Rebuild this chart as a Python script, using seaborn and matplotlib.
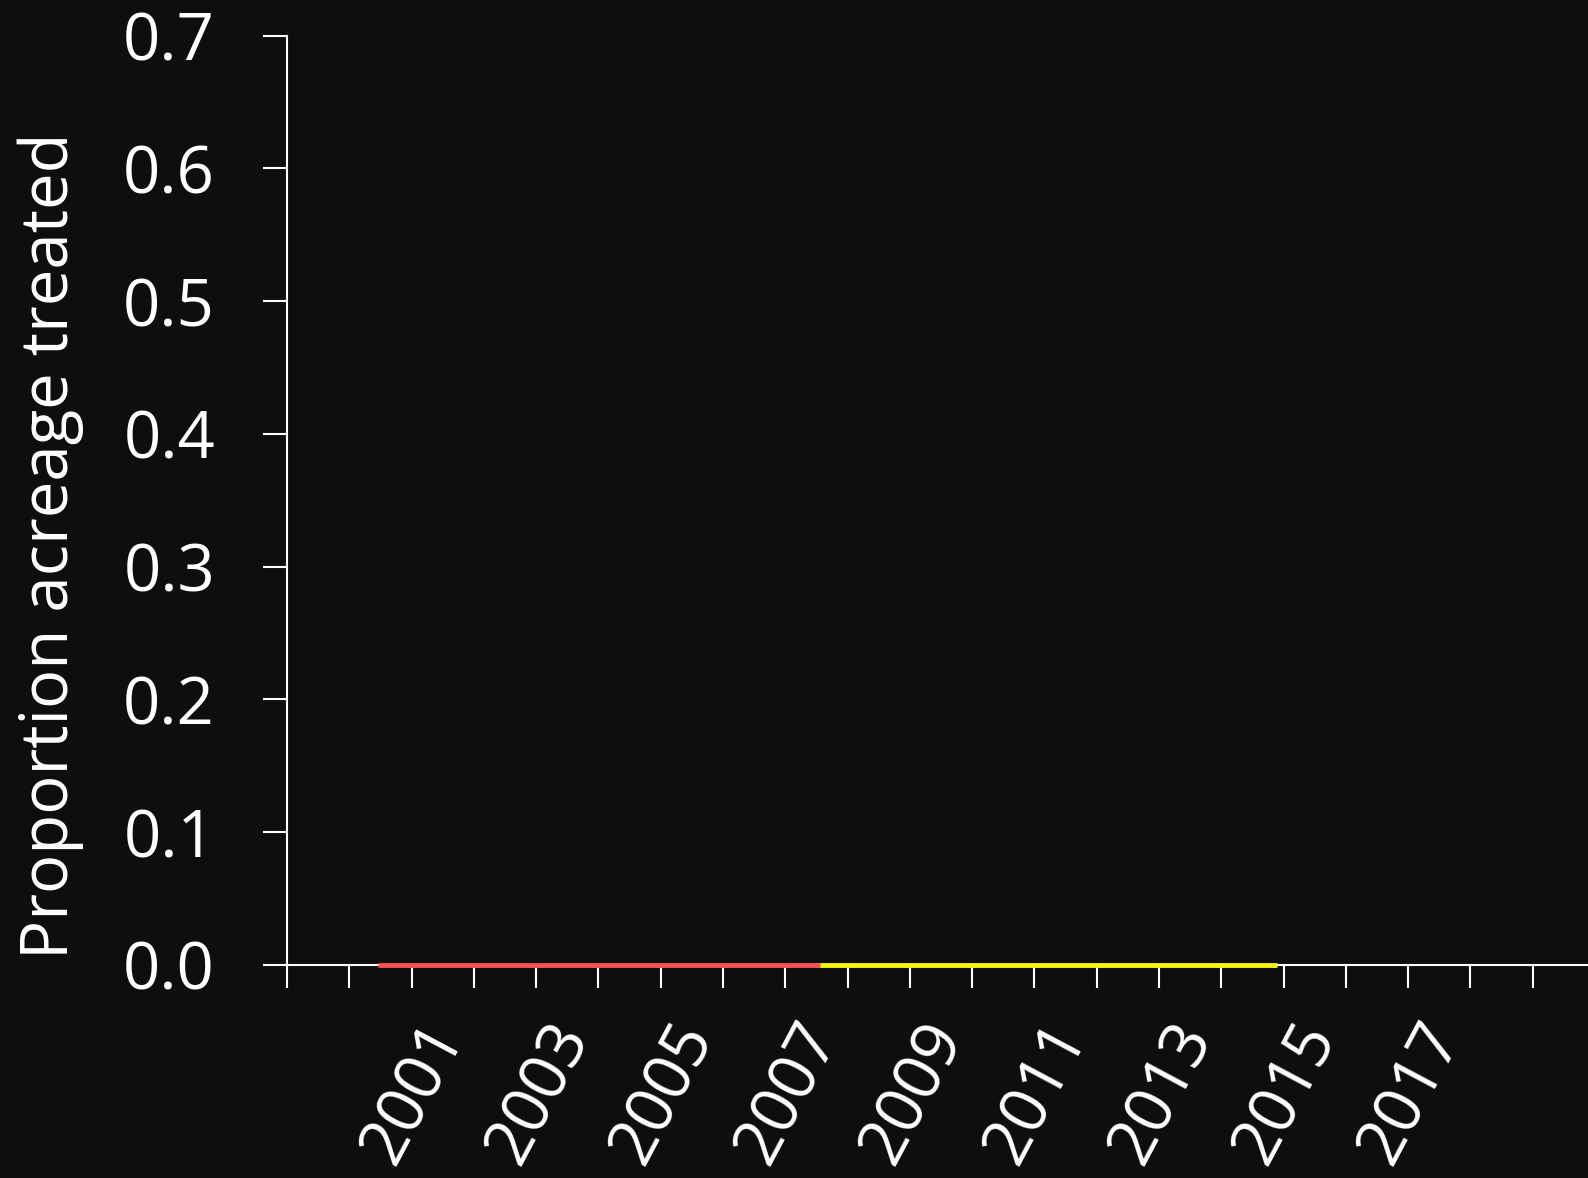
import matplotlib
matplotlib.use("Agg")
import matplotlib.pyplot as plt
import seaborn as sns
import pandas as pd
import numpy as np
from matplotlib.transforms import ScaledTranslation

# ---- data ----
red_years = [1999.46, 2000.5, 2001.5, 2002.5, 2003.5, 2004.5, 2005.5, 2006.55]
red_values = [0, 0, 0, 0, 0, 0, 0, 0]
yellow_years = [2006.5, 2007.5, 2008.5, 2009.5, 2010.5, 2011.5, 2012.5, 2013.5, 2013.9]
yellow_values = [0, 0, 0, 0, 0, 0, 0, 0, 0]
tick_years = list(range(1998, 2019))
label_years = [2001, 2003, 2005, 2007, 2009, 2011, 2013, 2015, 2017]
y_ticks = [0.0, 0.1, 0.2, 0.3, 0.4, 0.5, 0.6, 0.7]
y_label = "Proportion acreage treated"

BG = "#0e0e0e"
RED = "#f55252"
YELLOW = "#f5f50f"

sns.set_theme(style="dark")
plt.rcParams["font.family"] = ["Open Sans", "DejaVu Sans"]

fig = plt.figure(figsize=(15.88, 11.78), dpi=100, facecolor=BG)
ax = fig.add_axes([287 / 1588, 1 - 965 / 1178, 1 - 287 / 1588, (965 - 35.7) / 1178])
ax.set_facecolor(BG)

df_y = pd.DataFrame({"year": yellow_years, "value": yellow_values})
df_r = pd.DataFrame({"year": red_years, "value": red_values})
sns.lineplot(data=df_y, x="year", y="value", color=YELLOW, lw=3.5, ax=ax)
sns.lineplot(data=df_r, x="year", y="value", color=RED, lw=3.5, ax=ax)
for ln in ax.get_lines():
    ln.set_clip_on(False)
    ln.set_solid_capstyle("butt")
    ln.set_zorder(5)

ax.set_xlim(1998, 2018 + 55.3 / 62.3)
ax.set_ylim(0, 0.7)
ax.grid(False)

for s in ["top", "right"]:
    ax.spines[s].set_visible(False)
for s in ["left", "bottom"]:
    ax.spines[s].set_color("white")
    ax.spines[s].set_linewidth(1.5)

ax.set_xticks(tick_years)
ax.set_xticklabels([str(y) if y in label_years else "" for y in tick_years])
ax.tick_params(axis="x", direction="out", length=16.6, width=1.5, color="white",
               pad=17, labelsize=47, labelcolor="white", rotation=62, bottom=True)
off = ScaledTranslation(5 / 100, 0, fig.dpi_scale_trans)
for lbl in ax.get_xticklabels():
    lbl.set_ha("right")
    lbl.set_transform(lbl.get_transform() + off)

ax.set_yticks(y_ticks)
ax.set_yticklabels([f"{v:.1f}" for v in y_ticks])
ax.tick_params(axis="y", direction="out", length=17.3, width=1.5, color="white",
               pad=34.5, labelsize=47, labelcolor="white", left=True)

ax.set_xlabel("")
ax.set_ylabel(y_label, color="white", fontsize=47)
ax.yaxis.set_label_coords(-0.156, 0.4507)

fig.savefig("out.png", dpi=100, facecolor=BG)
